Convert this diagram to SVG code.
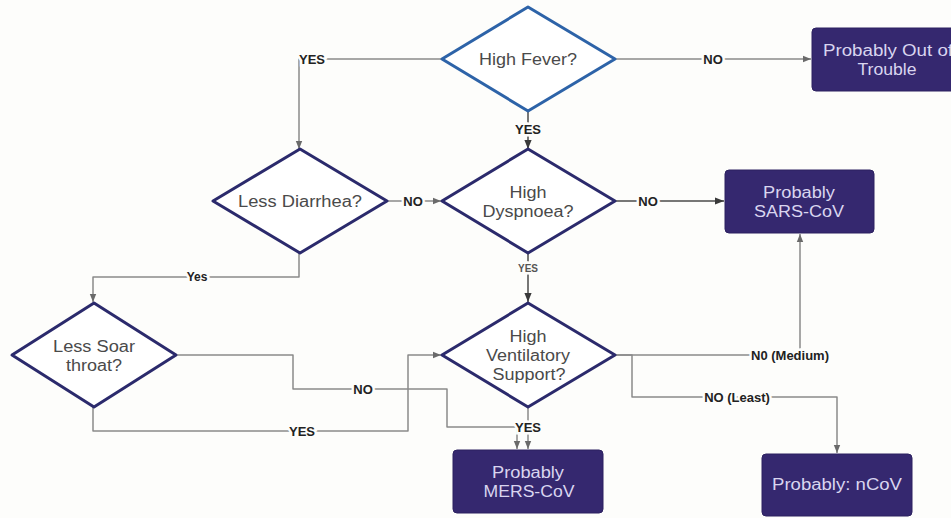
<svg xmlns="http://www.w3.org/2000/svg" width="951" height="518" viewBox="0 0 951 518">
<defs>
<marker id="arr" viewBox="0 0 10 10" refX="10" refY="5" markerWidth="9" markerHeight="8" markerUnits="userSpaceOnUse" orient="auto"><path d="M0,1 L10,5 L0,9 z" fill="#6a6a6a"/></marker>
<marker id="arrd" viewBox="0 0 10 10" refX="10" refY="5" markerWidth="10" markerHeight="9" markerUnits="userSpaceOnUse" orient="auto"><path d="M0,1 L10,5 L0,9 z" fill="#3a3a3a"/></marker>
</defs>
<style>
.bg{fill:#fdfdfb}
.dia{fill:#ffffff;stroke:#2b2a6c;stroke-width:3;stroke-linejoin:round}
.dia.blue{stroke:#2d63a8}
.dt{font-family:"Liberation Sans",Arial,sans-serif;font-size:16px;fill:#4a4a4a;text-anchor:middle;dominant-baseline:central}
.box{fill:#35286f;stroke:#2c2160;stroke-width:1}
.bt{font-family:"Liberation Sans",Arial,sans-serif;font-size:16px;fill:#d9d5ef;text-anchor:middle;dominant-baseline:central}
.ln{fill:none;stroke:#8a8a8a;stroke-width:1.5;stroke-linejoin:round}
.ln.dk{stroke:#4a4a4a}
.lb{font-family:"Liberation Sans",Arial,sans-serif;font-weight:bold;font-size:13px;fill:#222;text-anchor:middle;dominant-baseline:central;paint-order:stroke;stroke:#fdfdfb;stroke-width:5px}
.lb.sm{font-size:10px;fill:#555}
</style>
<rect class="bg" x="0" y="0" width="951" height="518"/>
<g id="connectors">
<path class="ln" d="M442,59 H299 V149" marker-end="url(#arr)"/>
<path class="ln" d="M615,59 H811" marker-end="url(#arr)"/>
<path class="ln dk" d="M528,111 V149" marker-end="url(#arrd)"/>
<path class="ln" d="M387,201 H441" marker-end="url(#arr)"/>
<path class="ln" d="M299,253 V277 H93 V302" marker-end="url(#arr)"/>
<path class="ln dk" d="M615,201 H724" marker-end="url(#arrd)"/>
<path class="ln dk" d="M528,253 V302" marker-end="url(#arrd)"/>
<path class="ln" d="M93,407 V431 H408 V355 H441" marker-end="url(#arr)"/>
<path class="ln" d="M175,355 H293 V389 H447 V427 H517 V449" marker-end="url(#arr)"/>
<path class="ln" d="M528,407 V449" marker-end="url(#arr)"/>
<path class="ln" d="M615,355 H800 V234" marker-end="url(#arr)"/>
<path class="ln" d="M615,355 H632 V397 H837 V453" marker-end="url(#arr)"/>
<text class="lb" x="312" y="59">YES</text>
<text class="lb" x="713" y="59">NO</text>
<text class="lb" x="528" y="129">YES</text>
<text class="lb" x="413" y="201">NO</text>
<text class="lb" x="648" y="201">NO</text>
<text class="lb sm" x="528" y="268">YES</text>
<text class="lb" x="197" y="277" style="font-size:12px">Yes</text>
<text class="lb" x="363" y="389">NO</text>
<text class="lb" x="302" y="431">YES</text>
<text class="lb" x="528" y="427">YES</text>
<text class="lb" x="790" y="355">N0 (Medium)</text>
<text class="lb" x="737" y="397">NO (Least)</text>
</g>
<g id="high-fever">
<polygon class="dia blue" points="528,7 615,59 528,111 442,59"/>
<text class="dt" x="528" y="59" textLength="98" lengthAdjust="spacingAndGlyphs">High Fever?</text>
</g>
<g id="out-of-trouble">
<rect class="box" x="812" y="28" width="150" height="63" rx="4"/>
<text class="bt" x="888" y="50" textLength="130" lengthAdjust="spacingAndGlyphs">Probably Out of</text>
<text class="bt" x="887" y="69" textLength="59" lengthAdjust="spacingAndGlyphs">Trouble</text>
</g>
<g id="less-diarrhea">
<polygon class="dia" points="300,149 387,201 300,253 213,201"/>
<text class="dt" x="300" y="201" textLength="124" lengthAdjust="spacingAndGlyphs">Less Diarrhea?</text>
</g>
<g id="high-dyspnoea">
<polygon class="dia" points="528,149 615,201 528,253 442,201"/>
<text class="dt" x="528" y="192" textLength="37" lengthAdjust="spacingAndGlyphs">High</text>
<text class="dt" x="528" y="211" textLength="91" lengthAdjust="spacingAndGlyphs">Dyspnoea?</text>
</g>
<g id="sars-cov">
<rect class="box" x="725" y="170" width="149" height="63" rx="4"/>
<text class="bt" x="799" y="192" textLength="72" lengthAdjust="spacingAndGlyphs">Probably</text>
<text class="bt" x="799" y="211" textLength="90" lengthAdjust="spacingAndGlyphs">SARS-CoV</text>
</g>
<g id="less-soar-throat">
<polygon class="dia" points="94,303 176,355 94,407 12,355"/>
<text class="dt" x="94" y="346" textLength="82" lengthAdjust="spacingAndGlyphs">Less Soar</text>
<text class="dt" x="94" y="365" textLength="56" lengthAdjust="spacingAndGlyphs">throat?</text>
</g>
<g id="high-ventilatory">
<polygon class="dia" points="528,303 615,355 528,407 442,355"/>
<text class="dt" x="528" y="336" textLength="37" lengthAdjust="spacingAndGlyphs">High</text>
<text class="dt" x="528" y="355" textLength="84" lengthAdjust="spacingAndGlyphs">Ventilatory</text>
<text class="dt" x="529" y="374" textLength="73" lengthAdjust="spacingAndGlyphs">Support?</text>
</g>
<g id="mers-cov">
<rect class="box" x="453" y="450" width="150" height="63" rx="4"/>
<text class="bt" x="528" y="472" textLength="72" lengthAdjust="spacingAndGlyphs">Probably</text>
<text class="bt" x="529" y="491" textLength="91" lengthAdjust="spacingAndGlyphs">MERS-CoV</text>
</g>
<g id="ncov">
<rect class="box" x="762" y="454" width="150" height="62" rx="4"/>
<text class="bt" x="837" y="484" textLength="130" lengthAdjust="spacingAndGlyphs">Probably: nCoV</text>
</g>
</svg>
